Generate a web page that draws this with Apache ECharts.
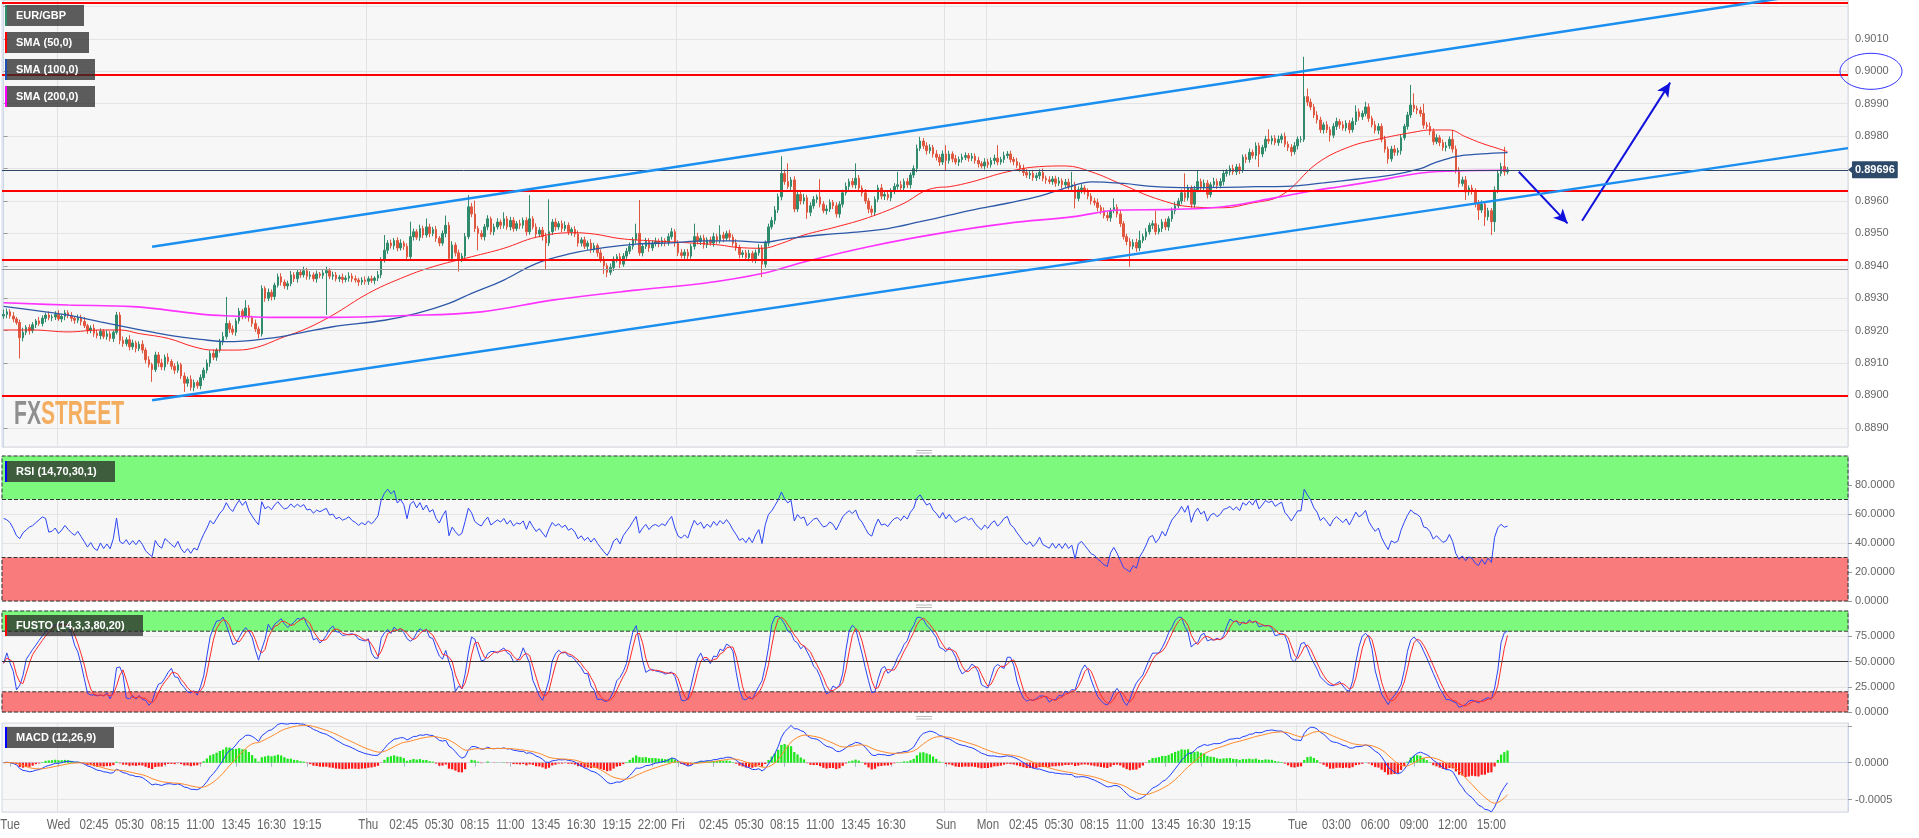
<!DOCTYPE html>
<html>
<head>
<meta charset="utf-8">
<script src="https://cdn.jsdelivr.net/npm/echarts/dist/echarts.min.js"></script>
<style>
html,body{margin:0;padding:0;background:#fff;}
#chart{width:1919px;height:838px;}
</style>
</head>
<body>
<div id="chart"></div>
<script>
// ---------- DATA ----------
// price = PRICE_BASE + v * PRICE_UNIT  (v in 0.1 pip above 0.8900)
const PRICE_BASE = 0.89;
const PRICE_UNIT = 0.00001;
const CATEGORY_COUNT = 572;           // 15-minute slots across the plot width
const firstOpenV = 245;

// closing prices, one per 15-minute candle (Tue 19:45 ... Tue 16:15)
const closeV = [
250,258,245,236,225,178,195,210,200,218,
230,222,238,248,240,242,250,236,244,255,
246,238,232,240,228,215,200,208,192,185,
198,182,190,176,195,248,170,160,172,150,
162,145,158,140,110,95,80,125,100,88,
118,105,90,78,95,60,38,50,25,40,
30,55,78,100,130,118,140,165,182,222,
205,195,230,260,245,270,240,222,205,190,
330,300,318,305,340,366,350,338,345,372,
360,380,372,385,368,372,360,375,370,378,
385,368,372,360,365,358,362,368,360,356,
350,356,352,360,355,362,372,418,448,470,
462,478,455,470,460,428,490,505,488,515,
495,520,500,512,485,470,500,525,423,464,
440,420,430,490,582,560,515,500,490,520,
545,505,520,535,525,545,520,540,515,530,
525,540,505,545,520,498,510,490,470,505,
535,520,530,515,525,505,512,498,470,480,
460,470,450,462,440,420,400,380,395,420,
428,405,430,445,460,480,500,440,460,475,
455,470,475,468,478,472,490,505,470,440,
432,442,430,460,490,475,485,465,480,470,
490,478,495,485,500,488,470,455,435,440,
425,438,420,440,455,405,470,520,540,572,
613,685,660,645,665,575,620,600,610,565,
585,605,612,590,570,575,595,585,560,590,
625,645,660,650,670,640,625,600,575,565,
605,640,615,620,610,630,645,650,640,660,
650,680,700,762,785,770,755,765,745,735,
720,745,725,745,730,720,728,735,740,732,
738,725,715,708,720,712,725,732,720,728,
740,745,728,722,710,700,688,680,685,672,
678,688,670,665,660,668,655,662,650,658,
645,650,608,635,640,628,615,600,595,580,
570,555,548,570,580,560,530,490,475,460,
472,455,478,490,505,525,530,505,515,535,
520,545,570,585,600,625,610,640,590,635,
660,640,655,620,650,660,648,660,685,690,
700,690,705,695,735,728,750,740,770,745,
765,790,785,793,780,790,800,775,765,752,
770,790,790,922,905,890,865,850,820,835,
820,803,830,845,835,825,840,820,845,875,
860,870,890,855,835,818,830,790,760,730,
760,750,755,795,830,865,896,885,880,870,
834,830,815,783,795,780,765,770,790,760,
695,654,665,628,640,630,592,572,590,551,
570,536,634,685,706,690,696
];
// upper wick above the body, same units
const upperWickV = [
15,10,8,12,6,9,14,7,10,8,
6,12,9,7,11,8,10,13,6,9,
8,11,7,10,9,14,6,8,12,10,
9,7,11,8,6,10,9,12,8,14,
10,7,9,12,8,11,6,10,9,13,
8,12,7,9,10,6,11,8,12,9,
7,10,8,11,9,12,6,10,14,82,
9,11,8,10,7,24,9,6,12,8,
10,7,12,9,8,10,11,8,9,12,
8,10,7,12,9,11,8,10,6,9,
12,8,10,9,7,11,8,12,9,10,
7,9,11,8,10,6,12,8,47,9,
11,8,10,12,7,9,46,10,8,12,
9,26,10,8,11,7,9,30,10,12,
8,10,9,11,36,12,41,8,10,9,
11,7,10,12,8,20,9,11,10,8,
12,9,10,73,8,11,9,10,12,100,
9,11,8,10,12,9,7,10,11,8,
10,8,12,9,7,11,10,8,12,9,
8,11,9,10,12,8,30,103,9,11,
10,8,12,9,11,7,10,12,8,9,
11,9,10,8,40,12,9,11,8,10,
12,9,30,10,8,11,9,12,10,8,
9,11,8,10,12,9,8,10,11,12,
10,53,12,56,9,11,10,8,12,9,
11,10,8,55,9,12,10,8,11,9,
10,12,9,11,46,10,8,12,9,11,
9,10,12,8,11,9,10,40,12,9,
11,8,10,12,13,9,11,10,8,12,
9,11,27,10,8,12,9,11,10,8,
10,9,11,8,12,10,9,11,40,8,
12,9,10,8,11,9,12,10,8,11,
9,10,12,8,11,9,10,12,8,10,
11,40,9,10,12,8,11,9,10,12,
8,10,11,9,28,10,12,8,9,11,
10,12,30,9,11,8,10,40,12,9,
11,8,10,12,9,11,60,10,8,12,
35,9,11,10,8,12,9,10,11,8,
10,12,9,11,8,10,12,9,11,10,
8,11,31,9,10,12,8,11,9,10,
12,9,10,123,25,11,9,12,10,8,
11,9,10,12,8,11,9,10,12,20,
10,9,16,11,8,12,10,9,11,8,
10,12,9,11,8,10,62,36,9,11,
30,10,12,9,11,8,10,12,9,29,
11,9,10,12,8,10,9,11,12,10,
9,8,11,10,12,61,9
];
// lower wick below the body, same units
const lowerWickV = [
9,12,8,10,7,64,11,9,12,8,
10,7,9,12,8,11,9,6,10,12,
8,10,11,9,12,7,10,8,11,9,
12,8,10,9,11,7,12,10,8,11,
9,12,8,10,11,9,38,8,12,10,
11,9,10,12,8,9,27,11,10,12,
9,11,8,10,12,9,11,8,10,9,
12,8,11,9,10,8,12,10,9,14,
8,11,9,12,10,7,11,9,12,8,
10,12,9,8,11,10,9,12,8,10,
130,9,11,8,10,12,9,11,10,8,
12,9,10,11,8,12,9,10,8,11,
9,12,10,8,11,9,10,12,8,11,
10,8,12,9,11,10,8,12,9,10,
11,38,9,12,8,10,11,52,9,12,
10,9,11,8,12,10,9,11,10,8,
11,10,12,9,8,11,10,12,83,9,
10,12,9,11,8,10,12,9,11,10,
8,11,10,9,12,10,25,15,9,11,
10,12,8,11,9,10,12,9,11,8,
12,9,10,11,8,12,10,9,11,10,
9,11,12,8,10,9,11,12,10,8,
11,10,9,12,8,11,10,9,12,10,
8,11,10,12,9,40,11,10,8,12,
9,11,10,8,12,10,9,11,10,20,
12,9,11,10,8,12,9,10,11,12,
10,8,11,9,12,10,11,9,13,10,
11,9,10,12,8,11,9,10,12,9,
10,12,9,11,8,10,12,9,11,10,
12,9,30,10,11,8,12,10,9,11,
9,10,12,8,11,10,9,12,10,8,
11,9,10,12,8,10,11,9,12,10,
10,11,9,12,8,10,11,9,12,8,
10,11,31,9,12,8,10,11,9,12,
11,9,10,12,8,11,10,9,12,63,
9,12,10,8,11,9,12,10,8,11,
10,12,9,11,8,10,12,9,11,10,
8,11,10,12,9,10,11,9,12,10,
11,9,10,12,8,11,10,9,12,40,
10,12,9,11,8,10,12,9,11,14,
9,11,10,8,12,10,9,11,10,12,
10,20,9,11,12,8,10,12,9,11,
12,10,9,11,8,10,12,9,11,15,
9,11,10,12,8,10,9,11,12,10,
11,9,12,10,8,11,10,12,9,11,
10,12,9,25,11,10,12,31,9,28,
11,41,31,10,9,12,8
];

// RSI values of the first candles (its 14-candle warm-up lies left of the picture)
const rsiLeadRead = [57,56,54,50,45,43,47,49,51,52,54,56,58,57];

// moving averages: [candle index, v]
const sma50Pts = [[0,202],[9,202],[20,196],[30,202],[36,202],[42,191],[51,176],[59,150],[65,140],[71,140],[77,145],[87,181],[94,207],[102,248],[113,315],[123,361],[133,397],[145,428],[155,454],[165,488],[176,502],[183,498],[191,484],[201,477],[212,471],[222,464],[227,457],[235,454],[241,469],[248,495],[258,520],[268,549],[279,593],[285,629],[289,641],[293,644],[300,659],[311,690],[321,706],[329,708],[337,690],[347,649],[357,608],[368,582],[378,579],[386,592],[396,618],[407,716],[417,767],[427,793],[438,814],[442,819],[448,819],[453,798],[458,778],[463,762],[466,752]];
const sma100Pts = [[0,275],[9,263],[20,248],[30,227],[40,207],[51,186],[61,173],[69,166],[82,176],[92,193],[102,212],[118,232],[128,253],[138,284],[145,315],[155,356],[165,407],[176,438],[186,456],[196,467],[207,471],[217,477],[227,477],[235,472],[243,484],[253,495],[263,503],[274,515],[284,536],[293,556],[300,572],[311,593],[321,615],[331,646],[337,659],[347,654],[357,644],[368,641],[378,642],[388,644],[399,646],[409,656],[419,667],[430,680],[439,700],[443,716],[450,737],[458,745],[466,749]];
const sma200Pts = [[0,286],[20,279],[40,274],[61,251],[71,245],[82,241],[102,241],[123,246],[148,258],[170,294],[196,325],[217,346],[235,376],[248,412],[268,459],[290,500],[311,531],[331,551],[346,572],[362,574],[378,582],[393,608],[407,634],[414,644],[427,665],[438,685],[448,692],[466,695]];

// drawn levels and annotations (price values)
const redLevels = [0.9021, 0.8999, 0.8963, 0.8942, 0.8900];
const greyLevel = 0.8939;
const lastPrice = 0.89696;
const channelUpper = [[46, 0.89459], [552, 0.90227]];
const channelLower = [[46, 0.88985], [571.5, 0.89763]];
const arrowSegments = [
  [[469.5, 0.89690], [484.6, 0.89531]],
  [[489.1, 0.89539], [516.4, 0.89965]]
];

// x-axis tick labels: [candle index, text]
const timeTicks = [[2,'Tue'],[17,'Wed'],[28,'02:45'],[39,'05:30'],[50,'08:15'],[61,'11:00'],[72,'13:45'],[83,'16:30'],[94,'19:15'],
  [113,'Thu'],[124,'02:45'],[135,'05:30'],[146,'08:15'],[157,'11:00'],[168,'13:45'],[179,'16:30'],[190,'19:15'],[201,'22:00'],
  [209,'Fri'],[220,'02:45'],[231,'05:30'],[242,'08:15'],[253,'11:00'],[264,'13:45'],[275,'16:30'],
  [292,'Sun'],[305,'Mon'],[316,'02:45'],[327,'05:30'],[338,'08:15'],[349,'11:00'],[360,'13:45'],[371,'16:30'],[382,'19:15'],
  [401,'Tue'],[413,'03:00'],[425,'06:00'],[437,'09:00'],[449,'12:00'],[461,'15:00']];
const dayBoundaries = [17, 113, 209, 292, 305, 401];

// ---------- BUILD ----------
const toP = v => +(PRICE_BASE + v * PRICE_UNIT).toFixed(5);
const n = closeV.length;
const ohlc = [], highs = [], lows = [], closes = [];
for (let i = 0; i < n; i++) {
  const o = i === 0 ? firstOpenV : closeV[i - 1];
  const c = closeV[i];
  const hi = Math.max(o, c) + upperWickV[i];
  const lo = Math.min(o, c) - lowerWickV[i];
  ohlc.push([toP(o), toP(c), toP(lo), toP(hi)]);
  highs.push(toP(hi)); lows.push(toP(lo)); closes.push(toP(c));
}
const smaSeries = pts => pts.map(p => [p[0], toP(p[1])]);

// indicators derived from the candles (RSI 14, full stochastic 14/3/3, MACD 12/26/9)
function emaOf(arr, len) {
  const k = 2 / (len + 1); const out = []; let e = arr[0];
  for (let i = 0; i < arr.length; i++) { e = i === 0 ? arr[0] : arr[i] * k + e * (1 - k); out.push(e); }
  return out;
}
function smaOf(arr, len) {
  const out = [];
  for (let i = 0; i < arr.length; i++) {
    const s = Math.max(0, i - len + 1); let sum = 0;
    for (let j = s; j <= i; j++) sum += arr[j];
    out.push(sum / (i - s + 1));
  }
  return out;
}
const rsiLen = 14;
const rsi = new Array(n).fill(null);
for (let i = 0; i < rsiLeadRead.length; i++) rsi[i] = rsiLeadRead[i];
{
  let ag = 0, al = 0;
  for (let i = 1; i < n; i++) {
    const ch = closes[i] - closes[i - 1];
    const g = Math.max(ch, 0), l = Math.max(-ch, 0);
    if (i <= rsiLen) { ag += g / rsiLen; al += l / rsiLen; }
    else { ag = (ag * (rsiLen - 1) + g) / rsiLen; al = (al * (rsiLen - 1) + l) / rsiLen; }
    if (i >= rsiLen) rsi[i] = al === 0 ? 100 : +(100 - 100 / (1 + ag / al)).toFixed(2);
  }
}
const rawK = closes.map((c, i) => {
  const s = Math.max(0, i - 13); let hh = -Infinity, ll = Infinity;
  for (let j = s; j <= i; j++) { hh = Math.max(hh, highs[j]); ll = Math.min(ll, lows[j]); }
  return hh === ll ? 50 : 100 * (c - ll) / (hh - ll);
});
const stochK = smaOf(rawK, 3).map(v => +v.toFixed(2));
const stochD = smaOf(stochK, 3).map(v => +v.toFixed(2));
const e12 = emaOf(closes, 12), e26 = emaOf(closes, 26);
const macd = e12.map((v, i) => v - e26[i]);
const signal = emaOf(macd, 9);
const hist = macd.map((v, i) => +(v - signal[i]).toFixed(7));
const macdR = macd.map(v => +v.toFixed(7));
const signalR = signal.map(v => +v.toFixed(7));

const cats = Array.from({length: CATEGORY_COUNT}, (_, i) => String(i));
const tickMap = {}; timeTicks.forEach(t => tickMap[t[0]] = t[1]);
const daySet = new Set(dayBoundaries);

const GRID_L = 2, GRID_W = 1846;
const BORDER = '#cdd6e8';
const grids = [
  {left: GRID_L, top: 0, width: GRID_W, height: 447},
  {left: GRID_L, top: 456, width: GRID_W, height: 145},
  {left: GRID_L, top: 611, width: GRID_W, height: 101},
  {left: GRID_L, top: 723, width: GRID_W, height: 89}
].map(g => Object.assign(g, {show: true, backgroundColor: '#f7f7f7', borderColor: BORDER, borderWidth: 1}));

const labelFont = '"Liberation Sans",Arial,sans-serif';

function catAxis(gi) {
  const bottom = gi === 3;
  return {
    type: 'category', gridIndex: gi, data: cats, boundaryGap: true,
    axisLine: {show: bottom, lineStyle: {color: BORDER}},
    axisTick: {show: bottom, alignWithLabel: true, length: 4, lineStyle: {color: '#aab4c8'},
      interval: (idx) => tickMap[idx] !== undefined},
    axisLabel: {show: false},
    splitLine: {show: true, interval: (idx) => daySet.has(idx), lineStyle: {color: '#e2e2e2', width: 1}}
  };
}
const xAxes = [catAxis(0), catAxis(1), catAxis(2), catAxis(3),
  {type: 'value', gridIndex: 0, min: -0.5, max: CATEGORY_COUNT - 0.5, show: false}];

const yCommon = {
  position: 'right', scale: true,
  axisLine: {show: true, lineStyle: {color: BORDER}},
  axisTick: {show: true, length: 4, lineStyle: {color: '#999'}},
  splitLine: {show: true, lineStyle: {color: '#e4e4e4'}}
};
const yLabel = (fmt) => ({color: '#666', fontSize: 11, fontFamily: labelFont, margin: 7, formatter: fmt, showMinLabel: false, showMaxLabel: false});
const yAxes = [
  Object.assign({}, yCommon, {gridIndex: 0, min: 0.88841, max: 0.9022, splitNumber: 14,
    axisLabel: yLabel(v => v > 0.9015 ? '' : v.toFixed(4))}),
  Object.assign({}, yCommon, {gridIndex: 1, min: 0, max: 100, interval: 20,
    axisLabel: Object.assign(yLabel(v => v.toFixed(4)), {showMinLabel: true})}),
  Object.assign({}, yCommon, {gridIndex: 2, min: 0, max: 100, interval: 25,
    axisLabel: Object.assign(yLabel(v => v.toFixed(4)), {showMinLabel: true})}),
  Object.assign({}, yCommon, {gridIndex: 3, min: -0.00067, max: 0.00054, splitNumber: 3,
    axisLabel: yLabel(v => (Math.abs(v) < 1e-9 ? '0.0000' : (Math.abs(v + 0.0005) < 1e-9 ? '-0.0005' : '')))})
];

const UP = '#2f8b6b', DOWN = '#e0573f';
const bandArea = (lo, hi, top, bottom, greenC, redC) => ({
  silent: true,
  itemStyle: {borderColor: '#333', borderWidth: 1, borderType: 'dashed'},
  data: [
    [{yAxis: hi, itemStyle: {color: greenC}}, {yAxis: top}],
    [{yAxis: bottom, itemStyle: {color: redC}}, {yAxis: lo}]
  ]
});

const series = [
  {
    name: 'EUR/GBP', type: 'candlestick', xAxisIndex: 0, yAxisIndex: 0, data: ohlc, barWidth: '64%',
    itemStyle: {color: UP, color0: DOWN, borderColor: UP, borderColor0: DOWN, borderWidth: 1},
    z: 3
  },
  {name: 'SMA50', type: 'line', xAxisIndex: 4, yAxisIndex: 0, data: smaSeries(sma50Pts), smooth: 0.4, showSymbol: false,
    lineStyle: {color: '#ff2222', width: 1}, z: 4, silent: true},
  {name: 'SMA100', type: 'line', xAxisIndex: 4, yAxisIndex: 0, data: smaSeries(sma100Pts), smooth: 0.4, showSymbol: false,
    lineStyle: {color: '#2d58a8', width: 1.3}, z: 4, silent: true},
  {name: 'SMA200', type: 'line', xAxisIndex: 4, yAxisIndex: 0, data: smaSeries(sma200Pts), smooth: 0.4, showSymbol: false,
    lineStyle: {color: '#ff33ff', width: 1.6}, z: 4, silent: true},
  {name: 'Levels', type: 'line', xAxisIndex: 4, yAxisIndex: 0, data: [], silent: true, z: 2,
    markLine: {
      silent: true, symbol: ['none', 'none'], animation: false, precision: 5,
      data: [
        ...redLevels.map(v => ({yAxis: v, lineStyle: {color: '#ff0000', width: 2, type: 'solid'}, label: {show: false}})),
        {yAxis: greyLevel, lineStyle: {color: '#9a9a9a', width: 1.2, type: 'solid'}, label: {show: false}},
        {yAxis: lastPrice, lineStyle: {color: '#2e4466', width: 1, type: 'solid'},
          label: {show: true, position: 'end', distance: 4, formatter: '0.89696', color: '#fff', fontWeight: 'bold',
            fontSize: 11, fontFamily: labelFont, backgroundColor: '#2e4a6b', padding: [3, 3, 3, 3], borderRadius: 1}}
      ]
    }},
  {name: 'ChannelUp', type: 'line', xAxisIndex: 4, yAxisIndex: 0, data: channelUpper, showSymbol: false,
    lineStyle: {color: '#1a8ff0', width: 2.5}, z: 5, silent: true},
  {name: 'ChannelDn', type: 'line', xAxisIndex: 4, yAxisIndex: 0, data: channelLower, showSymbol: false,
    lineStyle: {color: '#1a8ff0', width: 2.5}, z: 5, silent: true,
    markLine: {
      silent: true, symbol: ['none', 'arrow'], symbolSize: [10, 14], animation: false, precision: 5,
      lineStyle: {color: '#1111dd', width: 2, type: 'solid'}, label: {show: false},
      data: arrowSegments.map(s => [{coord: s[0]}, {coord: s[1]}])
    }},
  {name: 'RSI', type: 'line', xAxisIndex: 1, yAxisIndex: 1, data: rsi, showSymbol: false,
    lineStyle: {color: '#2b45f5', width: 1}, z: 4, silent: true,
    markArea: bandArea(30, 70, 100, 0, '#7dfa7d', '#fa7b7b')},
  {name: 'StochK', type: 'line', xAxisIndex: 2, yAxisIndex: 2, data: stochK, showSymbol: false,
    lineStyle: {color: '#2b45f5', width: 1}, z: 4, silent: true,
    markArea: bandArea(20, 80, 100, 0, '#7dfa7d', '#fa7b7b'),
    markLine: {silent: true, symbol: ['none', 'none'], label: {show: false}, animation: false,
      data: [{yAxis: 50, lineStyle: {color: '#333', width: 1, type: 'solid'}}]}},
  {name: 'StochD', type: 'line', xAxisIndex: 2, yAxisIndex: 2, data: stochD, showSymbol: false,
    lineStyle: {color: '#ff2a2a', width: 1}, z: 4, silent: true},
  {name: 'Hist', type: 'bar', xAxisIndex: 3, yAxisIndex: 3, data: hist, barWidth: '70%', silent: true,
    itemStyle: {color: p => p.value >= 0 ? '#1de61d' : '#ff1a1a'}},
  {name: 'MACD', type: 'line', xAxisIndex: 3, yAxisIndex: 3, data: macdR, showSymbol: false,
    lineStyle: {color: '#2040ff', width: 1}, z: 4, silent: true},
  {name: 'Signal', type: 'line', xAxisIndex: 3, yAxisIndex: 3, data: signalR, showSymbol: false,
    lineStyle: {color: '#ff8a2a', width: 1}, z: 4, silent: true}
];

const chart = echarts.init(document.getElementById('chart'), null, {renderer: 'canvas'});
chart.setOption({
  animation: false, backgroundColor: '#ffffff',
  grid: grids, xAxis: xAxes, yAxis: yAxes, series: series
});

// ---------- overlay texts / annotations ----------
function labelBox(x, y, w, text, bar) {
  return {type: 'group', x: x, y: y, z: 100, silent: true, children: [
    {type: 'rect', shape: {x: 0, y: 0, width: w, height: 21}, style: {fill: 'rgba(40,40,40,0.75)'}, z: 100},
    {type: 'rect', shape: {x: 0, y: 0, width: 2, height: 21}, style: {fill: bar}, z: 101},
    {type: 'text', x: 11, y: 11, z: 101, style: {text: text, fill: '#ffffff', font: 'bold 11px ' + labelFont, verticalAlign: 'middle', align: 'left'}}
  ]};
}
function handle(y) {
  return {type: 'group', x: 916, y: y, silent: true, children: [
    {type: 'rect', shape: {x: 0, y: 0, width: 16, height: 1}, style: {fill: '#b8b8b8'}},
    {type: 'rect', shape: {x: 0, y: 2.5, width: 16, height: 1}, style: {fill: '#b8b8b8'}}
  ]};
}
// time labels under the bottom axis, condensed like the original narrow font
const axisBottom = 723 + 89;
const timeLabelGraphics = timeTicks.map(t => ({
  type: 'text', silent: true, z: 10,
  x: chart.convertToPixel({xAxisIndex: 4}, t[0]), y: axisBottom + 13, scaleX: 0.83,
  style: {text: t[1], fill: '#666', font: '14px ' + labelFont, align: 'center', verticalAlign: 'middle'}
}));
const y9000 = chart.convertToPixel({yAxisIndex: 0}, 0.9000);
const yLast = chart.convertToPixel({yAxisIndex: 0}, lastPrice);
const graphics = [
  labelBox(5, 5, 79, 'EUR/GBP', '#2f8b6b'),
  labelBox(5, 32, 84, 'SMA (50,0)', '#ff0000'),
  labelBox(5, 59, 90, 'SMA (100,0)', '#1d4fb3'),
  labelBox(5, 86, 90, 'SMA (200,0)', '#ff00ff'),
  labelBox(5, 461, 110, 'RSI (14,70,30,1)', '#0000ff'),
  labelBox(5, 615, 138, 'FUSTO (14,3,3,80,20)', '#ff0000'),
  labelBox(5, 727, 109, 'MACD (12,26,9)', '#0000ff'),
  handle(450), handle(604.5), handle(716),
  {type: 'polygon', silent: true, z: 60, shape: {points: [[1848, yLast], [1853, yLast - 4], [1853, yLast + 4]]},
    style: {fill: '#2e4a6b'}},
  {type: 'text', x: 14, y: 415, z: 2, silent: true, scaleX: 0.62, style: {
    text: '{a|FX}{b|STREET}', verticalAlign: 'middle',
    rich: {a: {fill: '#8f8f8f', font: 'bold 34px ' + labelFont}, b: {fill: '#f4ad5e', font: 'bold 34px ' + labelFont}}}},
  {type: 'ellipse', z: 50, silent: true, shape: {cx: 1871, cy: y9000, rx: 31, ry: 18},
    style: {fill: 'none', stroke: '#3030ff', lineWidth: 1}},
  ...timeLabelGraphics
];
chart.setOption({graphic: graphics});
</script>
</body>
</html>
